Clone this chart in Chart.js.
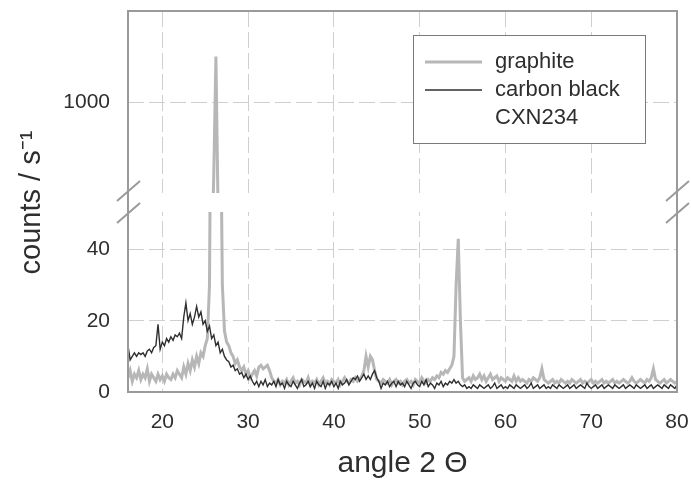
<!DOCTYPE html>
<html>
<head>
<meta charset="utf-8">
<script src="https://cdn.jsdelivr.net/npm/chart.js@4.4.1/dist/chart.umd.min.js"></script>
<style>
  html, body { margin: 0; padding: 0; background: #fff; }
  #xrdChart { display: block; }
</style>
</head>
<body>
<canvas id="xrdChart" width="691" height="486"></canvas>
<script>
// sampling of the scan: 16° .. 80°, one value every 0.25°
var angleStart = 16;
var angleStep = 0.25;

// ticks
var angleTicks = [20, 30, 40, 50, 60, 70, 80];
var countTicksLow = [0, 20, 40];
var countTicksHigh = [1000];

// carbon black CXN234 (counts / s)
var carbonBlack = [
    13, 9, 10, 11, 10, 11, 10.5, 11,          // 16
    10, 11.5, 12, 11, 12.5, 13, 19, 12,       // 18
    14, 13, 15, 14, 15.5, 14.5, 16, 15.5,     // 20
    16.5, 15, 21, 25, 20, 22, 19, 21,         // 22
    24, 21, 22.5, 19, 20, 17, 18.5, 15,       // 24
    16, 13, 14, 11, 12, 10, 9, 8.5,           // 26
    7, 7.5, 6, 6.5, 5, 5.5, 4, 5,             // 28
    3.5, 4.5, 3, 2, 3, 1.5, 3, 2,             // 30
    3.5, 1.5, 2.5, 2, 3, 1.5, 3.5, 2,         // 32
    2.5, 1, 3, 2, 1.5, 3, 2, 1,               // 34
    2.5, 3.5, 1.5, 2, 3, 1.5, 2.5, 1,         // 36
    3, 2, 1.5, 3, 1, 2.5, 2, 3,               // 38
    1.5, 2.5, 1, 3, 2, 2.5, 3.5, 2,           // 40
    3, 4, 3.5, 4.5, 3, 4, 5, 3.5,             // 42
    4.5, 3.5, 5, 6, 4, 3, 1, 2.5,             // 44
    2, 3, 1.5, 2.5, 3, 1.5, 3, 2,             // 46
    2.5, 1.5, 3, 2, 1, 2.5, 3, 2,             // 48
    1.5, 3, 2, 3.5, 1.5, 2.5, 2, 1,           // 50
    2.5, 2, 3, 1.5, 2.5, 2, 3, 2.5,           // 52
    3.5, 2.5, 3, 2, 1.5, 2, 1, 1.5,           // 54
    1, 2, 1.5, 1, 2, 1.5, 1, 1.5,             // 56
    2, 1, 1.5, 2.5, 1, 1.5, 2, 1,             // 58
    1.5, 1, 2, 1.5, 1, 2, 1.5, 1,             // 60
    1.5, 2, 1, 1.5, 2.5, 1, 1.5, 2,           // 62
    1, 1.5, 2, 1, 1.5, 1, 2, 1.5,             // 64
    1, 2, 1.5, 1, 1.5, 2, 1, 1.5,             // 66
    2, 1, 1.5, 2, 1.5, 1, 2.5, 1.5,           // 68
    1, 1.5, 2, 1, 1.5, 2, 1, 1.5,             // 70
    2, 1.5, 1, 2, 1.5, 1, 1.5, 2,             // 72
    1, 1.5, 2, 1.5, 1, 2, 1.5, 1,             // 74
    1.5, 2, 1, 1.5, 2, 1, 1.5, 2,             // 76
    1.5, 1, 2, 1.5, 1, 2, 1.5, 1,             // 78
    2                                         // 80
];

// graphite (counts / s)
var graphite = [
    4, 6, 3, 5, 4, 6, 3.5, 5,                 // 16
    4, 6.5, 3, 5, 4, 3, 5, 3.5,               // 18
    4.5, 3, 5, 4, 3.5, 5, 4, 6,               // 20
    5, 4, 7, 5, 8, 6, 9, 7,                   // 22
    10, 8, 11, 10, 13, 15, 30, 120,           // 24
    600, 1250, 400, 90, 30, 17, 14, 13,       // 26
    11, 10, 8, 9, 7, 6, 7, 5,                 // 28
    6, 4, 5, 6, 4.5, 7, 7.5, 6.5,             // 30
    7, 7.5, 6, 4, 3, 2.5, 3.5, 2,             // 32
    3, 2.5, 3.5, 2, 3, 4, 2.5, 3,             // 34
    2, 3.5, 3, 2.5, 4, 2, 3, 2.5,             // 36
    3.5, 2, 3, 4, 2.5, 3, 2, 3.5,             // 38
    3, 2.5, 3.5, 2, 3, 4, 3, 2.5,             // 40
    3.5, 3, 4, 3, 3.5, 4.5, 6, 10,            // 42
    7, 10, 9, 6, 3.5, 3, 2.5, 3.5,            // 44
    3, 2.5, 3.5, 2, 3, 3.5, 2.5, 3,           // 46
    2, 3, 3.5, 2.5, 3, 2, 3.5, 3,             // 48
    2.5, 4, 3, 2.5, 3.5, 3, 4, 3.5,           // 50
    4.5, 4, 5.5, 5, 6, 5.5, 6.5, 7.5,         // 52
    10, 30, 43, 20, 4, 3, 3.5, 4,             // 54
    3, 4.5, 3.5, 4, 5, 3.5, 4.5, 3,           // 56
    4, 5, 3.5, 4, 4.5, 3, 4, 3.5,             // 58
    3, 4, 3.5, 3, 4.5, 3, 4, 3,               // 60
    3.5, 3, 2.5, 3.5, 3, 4, 3.5, 3,           // 62
    4, 6.5, 3.5, 3, 2.5, 3, 3.5, 2.5,         // 64
    3, 2.5, 3.5, 3, 2.5, 3, 2.5, 3.5,         // 66
    3, 2.5, 3, 3.5, 2.5, 3, 2.5, 3,           // 68
    3.5, 2.5, 3, 2.5, 3, 3.5, 2.5, 3,         // 70
    2.5, 3, 3.5, 2.5, 3, 2.5, 3, 3.5,         // 72
    3, 2.5, 3, 4, 3, 2.5, 3, 3.5,             // 74
    3, 2.5, 3.5, 3, 4, 6.5, 3.5, 3,           // 76
    2.5, 3, 3.5, 2.5, 3, 3.5, 3, 2.5,         // 78
    3                                         // 80
];

var angles = graphite.map(function (v, i) { return angleStart + i * angleStep; });

function toPoints(values) {
    return values.map(function (v, i) { return { x: angles[i], y: v }; });
}

var fontFamily = '"Liberation Sans", Arial, Helvetica, sans-serif';
var gridColor = '#cfcfcf';
var frameColor = '#9a9a9a';
var textColor = '#2e2e2e';
var graphiteColor = '#b7b7b7';
var carbonColor = '#2f2f2f';

// fixed box sizes, and no extra room asked for the end labels
function fixBox(size) {
    return function (s) {
        if (s.isHorizontal()) s.height = size; else s.width = size;
        s.paddingTop = 0;
        s.paddingBottom = 0;
        s.paddingLeft = 0;
        s.paddingRight = 0;
    };
}

function plainTick(v) { return String(v); }

// each dataset is clipped to the band of its own y scale (broken axis)
var clipToOwnScale = {
    id: 'clipToOwnScale',
    beforeDatasetDraw: function (chart, args) {
        var ys = chart.scales[args.meta.yAxisID];
        var a = chart.chartArea;
        chart.ctx.save();
        chart.ctx.beginPath();
        chart.ctx.rect(a.left, ys.top, a.right - a.left, ys.bottom - ys.top);
        chart.ctx.clip();
    },
    afterDatasetDraw: function (chart) {
        chart.ctx.restore();
    }
};

// white gap + frame + the // marks of the axis break
var brokenFrame = {
    id: 'brokenFrame',
    beforeDatasetsDraw: function (chart) {
        var ctx = chart.ctx, a = chart.chartArea, gap = chart.scales.yGap;
        ctx.save();
        ctx.fillStyle = '#fff';
        ctx.fillRect(a.left + 1, gap.top, a.right - a.left - 2, gap.bottom - gap.top);
        ctx.restore();
    },
    afterDatasetsDraw: function (chart) {
        var ctx = chart.ctx, a = chart.chartArea, gap = chart.scales.yGap;
        ctx.save();
        ctx.strokeStyle = frameColor;
        ctx.lineWidth = 2;
        ctx.strokeRect(a.left, a.top, a.right - a.left, a.bottom - a.top);
        // break marks on both sides
        [a.left, a.right].forEach(function (x) {
            [gap.top - 2, gap.bottom + 1].forEach(function (y) {
                ctx.beginPath();
                ctx.moveTo(x - 11, y + 10);
                ctx.lineTo(x + 12, y - 10);
                ctx.stroke();
            });
        });
        ctx.restore();
    }
};

// legend box inside the plot, top right
var boxLegend = {
    id: 'boxLegend',
    afterDraw: function (chart, args, opts) {
        var ctx = chart.ctx;
        var b = opts.box;
        ctx.save();
        ctx.fillStyle = '#fff';
        ctx.fillRect(b.x, b.y, b.w, b.h);
        ctx.strokeStyle = '#7a7a7a';
        ctx.lineWidth = 1;
        ctx.strokeRect(b.x + 0.5, b.y + 0.5, b.w, b.h);
        ctx.font = opts.fontSize + 'px ' + fontFamily;
        ctx.fillStyle = textColor;
        ctx.textBaseline = 'middle';
        var row = 0;
        opts.items.forEach(function (item) {
            var ds = chart.data.datasets[item.dataset];
            var y = b.y + opts.firstRow + row * opts.rowHeight;
            ctx.beginPath();
            ctx.strokeStyle = ds.borderColor;
            ctx.lineWidth = ds.borderWidth;
            ctx.moveTo(b.x + 12, y);
            ctx.lineTo(b.x + 69, y);
            ctx.stroke();
            item.lines.forEach(function (t) {
                ctx.fillText(t, b.x + 82, b.y + opts.firstRow + row * opts.rowHeight);
                row++;
            });
        });
        ctx.restore();
    }
};

var tickFont = { family: fontFamily, size: 21 };

var chart = new Chart(document.getElementById('xrdChart').getContext('2d'), {
    type: 'line',
    data: {
        datasets: [{
            label: 'carbon black CXN234',
            data: toPoints(carbonBlack),
            yAxisID: 'yLow',
            borderColor: carbonColor,
            borderWidth: 1.4
        }, {
            label: 'graphite',
            data: toPoints(graphite),
            yAxisID: 'yLow',
            borderColor: graphiteColor,
            borderWidth: 3
        }, {
            label: 'graphite (upper)',
            data: toPoints(graphite),
            yAxisID: 'yHigh',
            borderColor: graphiteColor,
            borderWidth: 3
        }]
    },
    options: {
        responsive: false,
        animation: false,
        events: [],
        elements: { point: { radius: 0 }, line: { tension: 0 } },
        layout: { padding: { left: 0, right: 14, top: 11, bottom: 0 } },
        plugins: {
            legend: { display: false },
            tooltip: { enabled: false },
            boxLegend: {
                box: { x: 413, y: 35, w: 232, h: 108 },
                fontSize: 22,
                firstRow: 27,
                rowHeight: 28,
                items: [
                    { dataset: 1, lines: ['graphite'] },
                    { dataset: 0, lines: ['carbon black', 'CXN234'] }
                ]
            }
        },
        scales: {
            x: {
                type: 'linear',
                min: 16,
                max: 80,
                afterBuildTicks: function (s) { s.ticks = angleTicks.map(function (v) { return { value: v }; }); },
                afterFit: fixBox(94),
                grid: { color: gridColor, lineWidth: 1, drawTicks: false },
                border: { display: false, dash: [16, 5] },
                ticks: { font: tickFont, color: textColor, padding: 18, callback: plainTick },
                title: { display: true, text: 'angle 2 Θ', color: textColor, font: { family: fontFamily, size: 30 }, padding: { top: 0, bottom: 4 } }
            },
            yLow: {
                type: 'linear',
                position: 'left',
                stack: 'counts',
                stackWeight: 180,
                weight: 1,
                min: 0,
                max: 50.5,
                afterBuildTicks: function (s) { s.ticks = countTicksLow.map(function (v) { return { value: v }; }); },
                afterFit: fixBox(128),
                grid: { color: gridColor, lineWidth: 1, drawTicks: false },
                border: { display: false, dash: [16, 5] },
                ticks: { font: tickFont, color: textColor, padding: 18, callback: plainTick }
            },
            yGap: {
                type: 'linear',
                position: 'left',
                stack: 'counts',
                stackWeight: 19,
                weight: 2,
                min: 0,
                max: 1,
                afterFit: fixBox(128),
                grid: { display: false },
                border: { display: false },
                ticks: { display: false },
                title: { display: true, text: 'counts / s⁻¹', color: textColor, font: { family: fontFamily, size: 29 }, padding: { top: 15, bottom: 0 } }
            },
            yHigh: {
                type: 'linear',
                position: 'left',
                stack: 'counts',
                stackWeight: 182,
                weight: 3,
                min: 500,
                max: 1500,
                afterBuildTicks: function (s) { s.ticks = countTicksHigh.map(function (v) { return { value: v }; }); },
                afterFit: fixBox(128),
                grid: { color: gridColor, lineWidth: 1, drawTicks: false },
                border: { display: false, dash: [16, 5] },
                ticks: { font: tickFont, color: textColor, padding: 18, callback: plainTick }
            }
        }
    },
    plugins: [clipToOwnScale, brokenFrame, boxLegend]
});
</script>
</body>
</html>
